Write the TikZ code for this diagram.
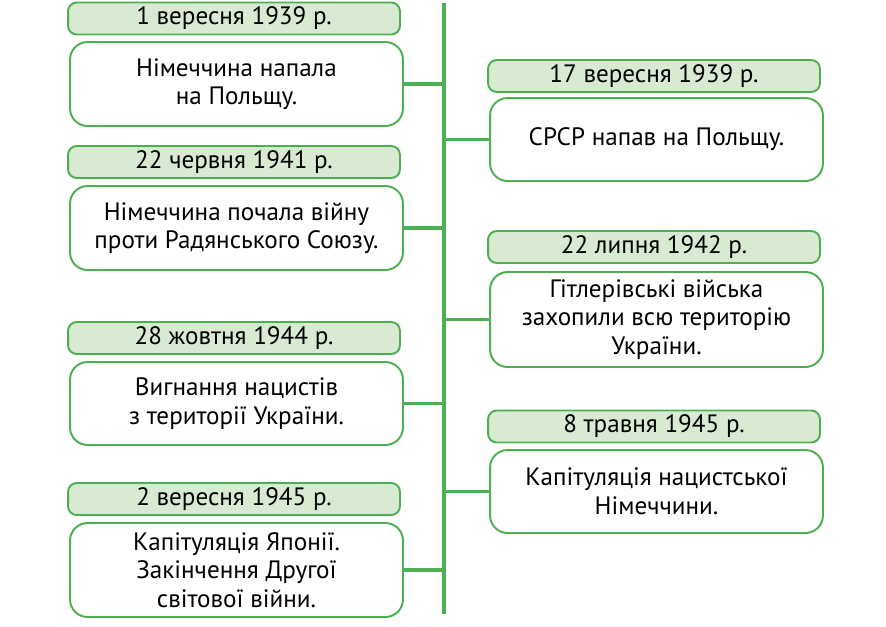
\documentclass[tikz,border=0pt]{standalone}
\usepackage{fontspec}
\setmainfont{PT Sans}
\usepackage{tikz}
\definecolor{tlgreen}{RGB}{76,175,80}
\definecolor{tlfill}{RGB}{217,234,211}

\begin{document}
\begin{tikzpicture}[x=0.02cm, y=-0.02cm,
    font=\fontsize{14.3}{16.3}\selectfont,
    datebox/.style={draw=tlgreen, fill=tlfill, line width=1.1pt, rounded corners=5pt,
      minimum width=6.64cm, minimum height=0.64cm, inner sep=0pt},
    eventbox/.style={draw=tlgreen, fill=white, line width=1.1pt, rounded corners=10pt,
      minimum width=6.66cm, inner sep=0pt, align=center},
    link/.style={draw=tlgreen, line width=1.8pt}]
  \useasboundingbox (0,0) rectangle (886,626);
  % spine
  \coordinate (top) at (444,3);
  \coordinate (bottom) at (444,614);
  \draw[tlgreen, line width=2.4pt] (top) -- (bottom);
  % left column
  \node[datebox] (d1) at (234,18.5) {1 вересня 1939 р.};
  \node[eventbox, minimum height=1.68cm] (e1) at (236.5,84) {Німеччина напала\\на Польщу.};
  \node[datebox] (d2) at (234,162) {22 червня 1941 р.};
  \node[eventbox, minimum height=1.68cm] (e2) at (236.5,228) {Німеччина почала війну\\проти Радянського Союзу.};
  \node[datebox] (d3) at (234,338) {28 жовтня 1944 р.};
  \node[eventbox, minimum height=1.66cm] (e3) at (236.5,403.5) {Вигнання нацистів\\з території України.};
  \node[datebox] (d4) at (234,499) {2 вересня 1945 р.};
  \node[eventbox, minimum height=1.88cm] (e4) at (236.5,570) {Капітуляція Японії.\\Закінчення Другої\\світової війни.};
  % right column
  \node[datebox] (d5) at (654,76) {17 вересня 1939 р.};
  \node[eventbox, minimum height=1.66cm] (e5) at (656.5,139.5) {СРСР напав на Польщу.};
  \node[datebox] (d6) at (654,247) {22 липня 1942 р.};
  \node[eventbox, minimum height=1.9cm] (e6) at (656.5,319.5) {Гітлерівські війська\\захопили всю територію\\України.};
  \node[datebox] (d7) at (654,426.5) {8 травня 1945 р.};
  \node[eventbox, minimum height=1.66cm] (e7) at (656.5,491.5) {Капітуляція нацистської\\Німеччини.};
  % links to the spine
  \foreach \e in {e1,e2,e3,e4}
    \draw[link] (\e.east) -- (\e.east -| top);
  \foreach \e in {e5,e6,e7}
    \draw[link] (\e.west) -- (\e.west -| top);
\end{tikzpicture}
\end{document}
